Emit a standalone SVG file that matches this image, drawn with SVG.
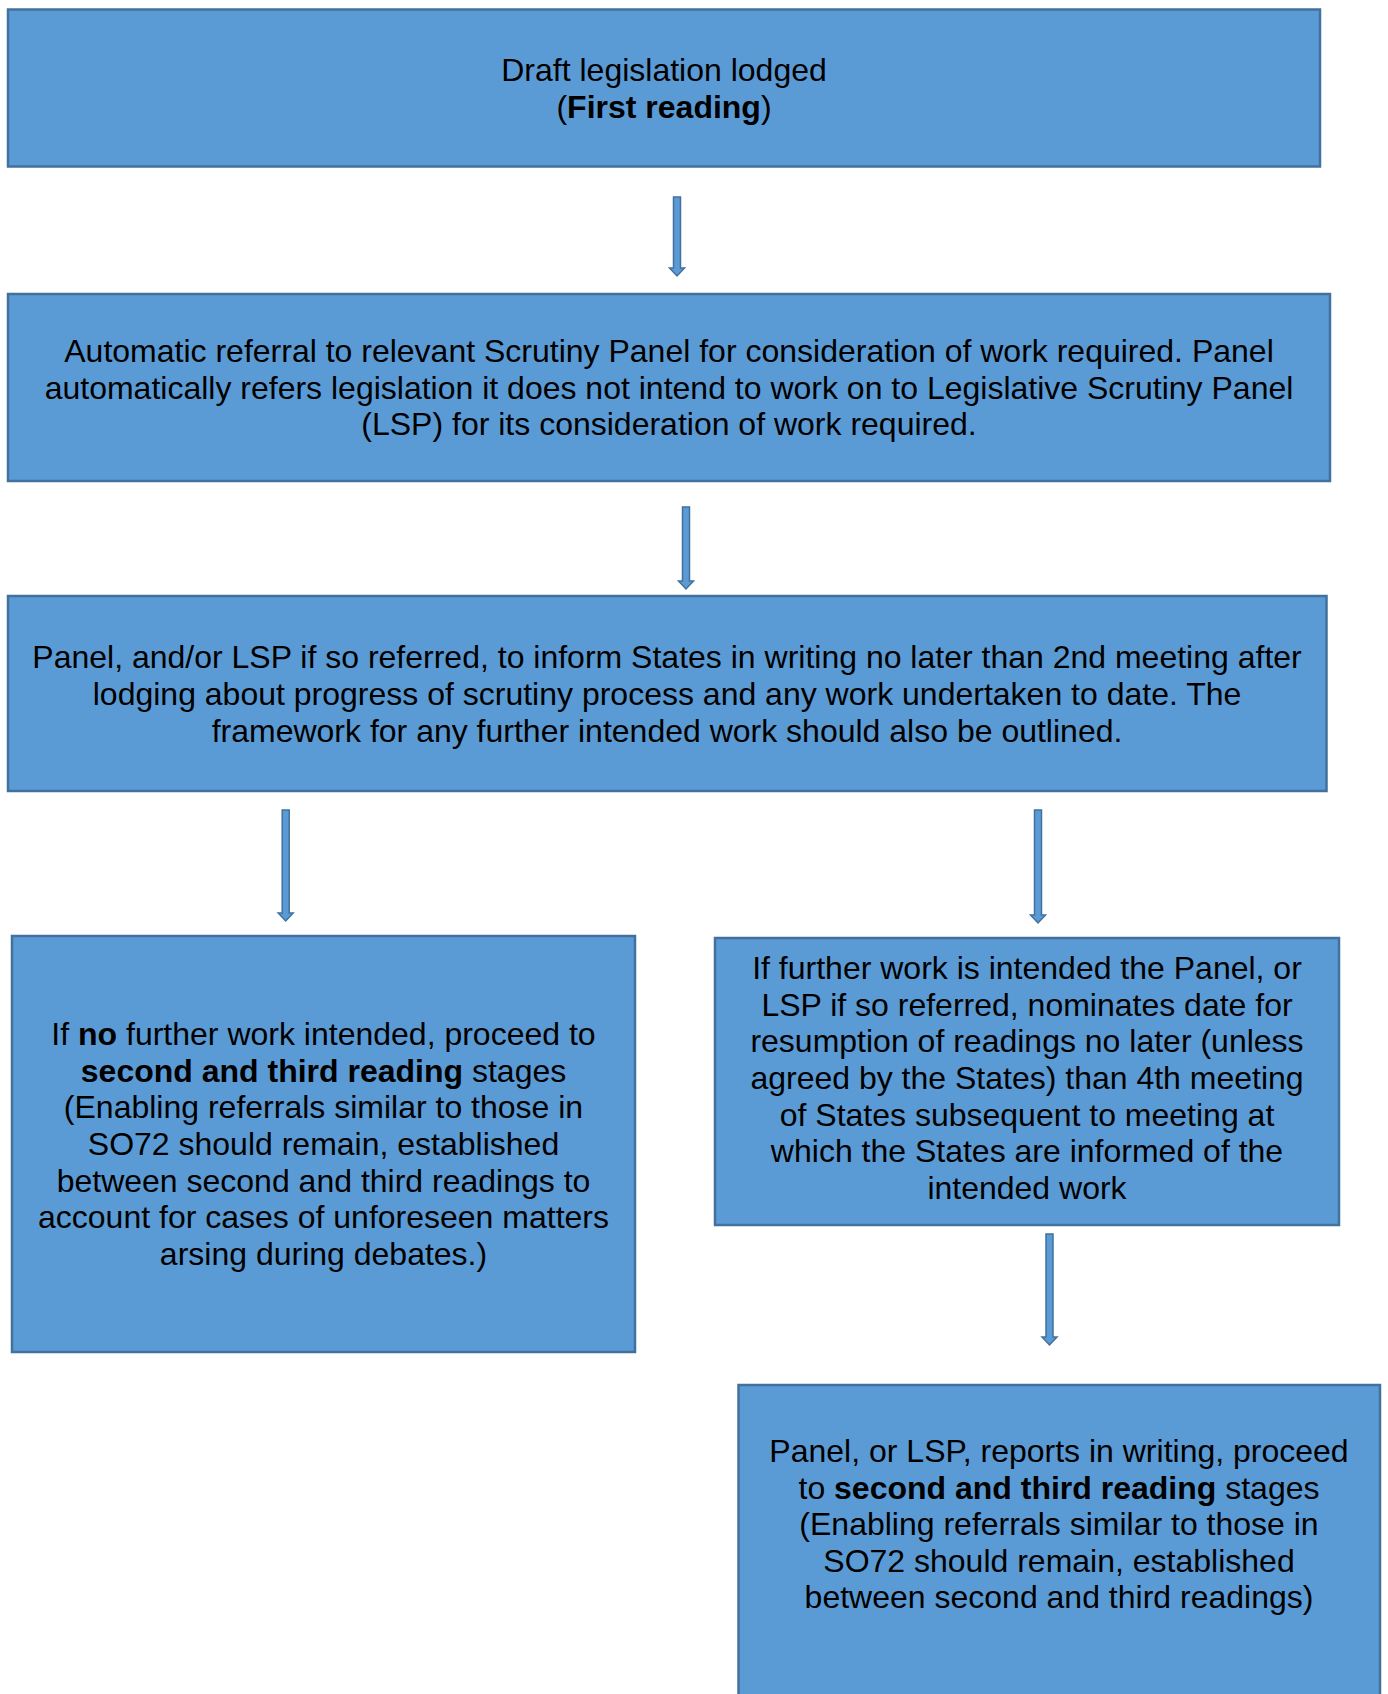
<svg xmlns="http://www.w3.org/2000/svg" width="1388" height="1694" viewBox="0 0 1388 1694">
<style>
.box{fill:#5B9BD5;stroke:#41719C;stroke-width:2.5}
.t{font-family:"Liberation Sans",Arial,sans-serif;font-size:32px;fill:#000;text-anchor:middle}
.b{font-weight:bold}
.arr{fill:#5B9BD5;stroke:#41719C;stroke-width:1.5;stroke-linejoin:miter}
</style>
<rect width="1388" height="1694" fill="#fff"/>
<g id="connectors">
<polygon class="arr" points="673.5,197 680.5,197 680.5,268 684.5,268 677,276 669.5,268 673.5,268"/>
<polygon class="arr" points="682.5,507 689.5,507 689.5,581 693.5,581 686,589 678.5,581 682.5,581"/>
<polygon class="arr" points="282.2,810 289.2,810 289.2,913 293.2,913 285.7,921 278.2,913 282.2,913"/>
<polygon class="arr" points="1034.5,810 1041.5,810 1041.5,915 1045.5,915 1038,923 1030.5,915 1034.5,915"/>
<polygon class="arr" points="1046,1234 1053,1234 1053,1337 1057,1337 1049.5,1345 1042,1337 1046,1337"/>
</g>
<g id="n1">
<rect class="box" x="8" y="9.5" width="1312" height="157"/>
<text class="t" x="664" y="81">Draft legislation lodged</text>
<text class="t" x="664" y="118">(<tspan class="b">First reading</tspan>)</text>
</g>
<g id="n2">
<rect class="box" x="8" y="294" width="1322" height="187"/>
<text class="t" x="669" y="362">Automatic referral to relevant Scrutiny Panel for consideration of work required. Panel</text>
<text class="t" x="669" y="398.5">automatically refers legislation it does not intend to work on to Legislative Scrutiny Panel</text>
<text class="t" x="669" y="435">(LSP) for its consideration of work required.</text>
</g>
<g id="n3">
<rect class="box" x="8" y="596" width="1318.5" height="195"/>
<text class="t" x="667" y="668">Panel, and/or LSP if so referred, to inform States in writing no later than 2nd meeting after</text>
<text class="t" x="667" y="705">lodging about progress of scrutiny process and any work undertaken to date. The</text>
<text class="t" x="667" y="742">framework for any further intended work should also be outlined.</text>
</g>
<g id="n4">
<rect class="box" x="12" y="936" width="623" height="416"/>
<text class="t" x="323.5" y="1045">If <tspan class="b">no</tspan> further work intended, proceed to</text>
<text class="t" x="323.5" y="1081.7"><tspan class="b">second and third reading</tspan> stages</text>
<text class="t" x="323.5" y="1118.3">(Enabling referrals similar to those in</text>
<text class="t" x="323.5" y="1155">SO72 should remain, established</text>
<text class="t" x="323.5" y="1191.7">between second and third readings to</text>
<text class="t" x="323.5" y="1228.3">account for cases of unforeseen matters</text>
<text class="t" x="323.5" y="1265">arsing during debates.)</text>
</g>
<g id="n5">
<rect class="box" x="715" y="938" width="624" height="287"/>
<text class="t" x="1027" y="979">If further work is intended the Panel, or</text>
<text class="t" x="1027" y="1015.7">LSP if so referred, nominates date for</text>
<text class="t" x="1027" y="1052.3">resumption of readings no later (unless</text>
<text class="t" x="1027" y="1089">agreed by the States) than 4th meeting</text>
<text class="t" x="1027" y="1125.7">of States subsequent to meeting at</text>
<text class="t" x="1027" y="1162.3">which the States are informed of the</text>
<text class="t" x="1027" y="1199">intended work</text>
</g>
<g id="n6">
<rect class="box" x="738.5" y="1385" width="641.5" height="330"/>
<text class="t" x="1059" y="1462">Panel, or LSP, reports in writing, proceed</text>
<text class="t" x="1059" y="1498.5">to <tspan class="b">second and third reading</tspan> stages</text>
<text class="t" x="1059" y="1535">(Enabling referrals similar to those in</text>
<text class="t" x="1059" y="1571.5">SO72 should remain, established</text>
<text class="t" x="1059" y="1608">between second and third readings)</text>
</g>
</svg>
